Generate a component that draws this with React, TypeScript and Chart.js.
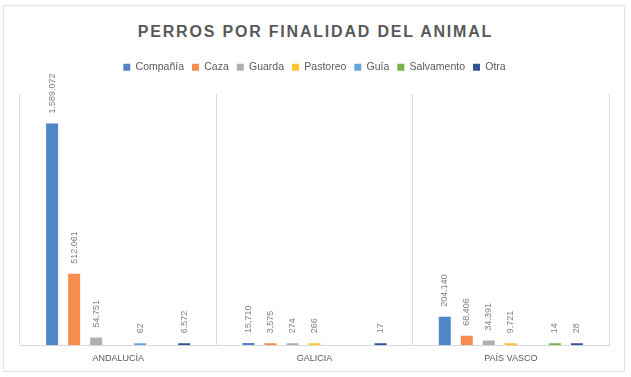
import React, { useEffect, useRef } from "react";
import { Chart, registerables } from "chart.js";

Chart.register(...registerables);

const chartTitle = "PERROS POR FINALIDAD DEL ANIMAL";
const categories = ["ANDALUCÍA", "GALICIA", "PAÍS VASCO"];
const labelSeparators = [".", ",", "."];

const companiaValues = [1589072, 15710, 204140];
const cazaValues = [512061, 3575, 68406];
const guardaValues = [54751, 274, 34391];
const pastoreoValues = [null, 266, 9721];
const guiaValues = [62, null, null];
const salvamentoValues = [null, null, 14];
const otraValues = [6572, 17, 28];

const seriesNames = ["Compañía", "Caza", "Guarda", "Pastoreo", "Guía", "Salvamento", "Otra"];
const seriesValues = [companiaValues, cazaValues, guardaValues, pastoreoValues, guiaValues, salvamentoValues, otraValues];
const seriesColors = ["#5085C7", "#F58D4F", "#AFAFAF", "#FFC52A", "#64A5DD", "#76B451", "#2F5597"];

const yMax = 1800000;

function formatValue(v: number, sep: string) {
  const s = String(Math.round(v));
  return s.replace(/\B(?=(\d{3})+(?!\d))/g, sep);
}

const valueLabelPlugin = {
  id: "valueLabels",
  afterDatasetsDraw(chart: any) {
    const ctx = chart.ctx;
    ctx.save();
    ctx.font = '9px "Liberation Sans", Arial, sans-serif';
    ctx.fillStyle = "#808080";
    ctx.textAlign = "left";
    ctx.textBaseline = "middle";
    chart.data.datasets.forEach((ds: any, di: number) => {
      const meta = chart.getDatasetMeta(di);
      meta.data.forEach((el: any, i: number) => {
        const v = ds.data[i];
        if (v === null || v === undefined) return;
        const text = formatValue(v, labelSeparators[i]);
        ctx.save();
        ctx.translate(el.x, el.y - 10);
        ctx.rotate(-Math.PI / 2);
        ctx.fillText(text, 0, 0);
        ctx.restore();
      });
    });
    ctx.restore();
  },
};

const legendMarginPlugin = {
  id: "legendMargin",
  beforeInit(chart: any) {
    const legend = chart.legend;
    if (!legend) return;
    const origFit = legend.fit;
    legend.fit = function () {
      origFit.call(this);
      this.height += 11.5;
    };
  },
};

export default function App() {
  const canvasRef = useRef<HTMLCanvasElement | null>(null);

  useEffect(() => {
    if (!canvasRef.current) return;
    const chart = new Chart(canvasRef.current, {
      type: "bar",
      data: {
        labels: categories,
        datasets: seriesNames.map((name, i) => ({
          label: name,
          data: seriesValues[i] as any,
          backgroundColor: seriesColors[i],
          borderWidth: 0,
          categoryPercentage: 0.785,
          barPercentage: 0.545,
          minBarLength: 2,
        })),
      },
      options: {
        animation: false,
        responsive: false,
        maintainAspectRatio: false,
        layout: { padding: { left: 20, right: 22, top: 54, bottom: 5 } },
        plugins: {
          title: { display: false },
          tooltip: { enabled: false },
          legend: {
            position: "top",
            labels: {
              boxWidth: 7,
              boxHeight: 7,
              padding: 8,
              color: "#595959",
              font: { family: '"Liberation Sans", Arial, sans-serif', size: 10.5 },
            },
          },
        },
        scales: {
          x: {
            grid: { offset: true, color: "#d9d9d9", drawTicks: false },
            border: { color: "#d9d9d9" },
            ticks: {
              color: "#595959",
              padding: 8,
              font: { family: '"Liberation Sans", Arial, sans-serif', size: 9 },
            },
          },
          y: {
            display: false,
            min: 0,
            max: yMax,
          },
        },
      },
      plugins: [legendMarginPlugin, valueLabelPlugin],
    });
    return () => chart.destroy();
  }, []);

  return (
    <div style={{ position: "fixed", left: 0, top: 0, width: 631, height: 377, background: "#fff" }}>
      <div
        style={{
          position: "absolute",
          left: 3,
          top: 5,
          width: 620,
          height: 365,
          border: "1px solid #e3e3e3",
        }}
      />
      <div
        style={{
          position: "absolute",
          left: 0,
          top: 21,
          width: 631,
          textAlign: "center",
          fontFamily: '"Liberation Sans", Arial, sans-serif',
          fontWeight: 700,
          fontSize: 16,
          lineHeight: "22px",
          letterSpacing: "1.8px",
          color: "#595959",
        }}
      >
        {chartTitle}
      </div>
      <canvas ref={canvasRef} width={631} height={377} style={{ position: "absolute", left: 0, top: 0 }} />
    </div>
  );
}
